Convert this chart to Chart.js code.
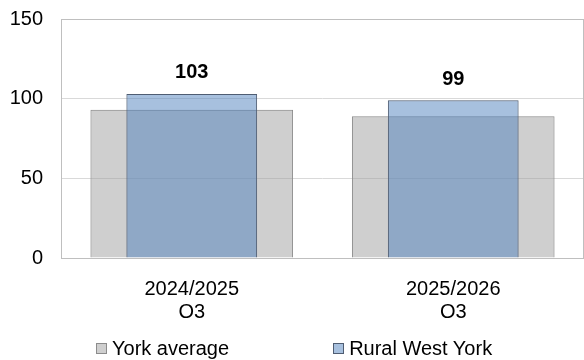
<!DOCTYPE html>
<html>
<head>
<meta charset="utf-8">
<script src="https://cdn.jsdelivr.net/npm/chart.js@4/dist/chart.umd.min.js"></script>
<style>
  body { margin: 0; background: #fff; }
  #wrap { position: relative; width: 584px; height: 360px; }
  #legend {
    position: absolute; left: 96px; top: 336px;
    display: flex; gap: 104px;
    font: 20px 'Liberation Sans', Arial, sans-serif; line-height: 24px; color: #000;
    white-space: nowrap;
  }
  #legend .item { position: relative; padding-left: 16px; }
  #legend .box { position: absolute; left: 0; top: 7px; width: 9px; height: 9px; border: 1px solid; }
</style>
</head>
<body>
<div id="wrap">
  <canvas id="myChart" width="584" height="360"></canvas>
  <div id="legend"></div>
</div>
<script>
const categories = [['2024/2025', 'Q3'], ['2025/2026', 'Q3']];
const seriesNames = ['York average', 'Rural West York'];
const yorkAverage = [93, 89];
const ruralWestYork = [103, 99];
const yTicks = [0, 50, 100, 150];

Chart.defaults.font.family = "'Liberation Sans', Arial, sans-serif";
Chart.defaults.font.size = 20;
Chart.defaults.color = '#000';

// grey frame round the plot area
const frame = {
  id: 'frame',
  beforeDatasetsDraw(chart) {
    const { ctx, chartArea: a } = chart;
    ctx.save();
    ctx.strokeStyle = '#bfbfbf';
    ctx.lineWidth = 1;
    ctx.strokeRect(a.left + 0.5, a.top + 0.5, a.right - a.left - 1, a.bottom - a.top);
    ctx.restore();
  }
};

// bold value above the Rural West York bars
const valueLabels = {
  id: 'valueLabels',
  afterDatasetsDraw(chart) {
    const ctx = chart.ctx;
    const meta = chart.getDatasetMeta(1);
    ctx.save();
    ctx.font = "bold 20px 'Liberation Sans', Arial, sans-serif";
    ctx.fillStyle = '#000';
    ctx.textAlign = 'center';
    ctx.textBaseline = 'middle';
    meta.data.forEach((bar, i) => {
      ctx.fillText(ruralWestYork[i], bar.x, bar.y - 21);
    });
    ctx.restore();
  }
};

const ctx = document.getElementById('myChart').getContext('2d');
const chart = new Chart(ctx, {
  type: 'bar',
  data: {
    labels: categories,
    datasets: [{
      label: seriesNames[0],
      data: yorkAverage,
      backgroundColor: 'rgba(160,160,160,0.5)',
      borderColor: '#8c8c8c',
      borderWidth: 1,
      grouped: false,
      barPercentage: 0.775,
      categoryPercentage: 1,
      order: 2
    }, {
      label: seriesNames[1],
      data: ruralWestYork,
      backgroundColor: 'rgba(79,129,189,0.5)',
      borderColor: '#4f5d72',
      borderWidth: 1,
      grouped: false,
      barPercentage: 0.5,
      categoryPercentage: 1,
      order: 1
    }]
  },
  options: {
    responsive: false,
    animation: false,
    layout: { padding: { top: 19, right: 0, bottom: 42, left: 0 } },
    plugins: {
      legend: { display: false },
      tooltip: { enabled: false }
    },
    scales: {
      x: {
        grid: { display: false },
        border: { display: false },
        ticks: { padding: 12, font: { size: 20, lineHeight: 1.15 } },
        afterFit: (scale) => { scale.height = 60; }
      },
      y: {
        min: yTicks[0],
        max: yTicks[yTicks.length - 1],
        afterBuildTicks: (scale) => { scale.ticks = yTicks.map(v => ({ value: v })); },
        grid: { color: '#d9d9d9', drawTicks: false },
        border: { display: false },
        ticks: { padding: 18 },
        afterFit: (scale) => {
          scale.width = 61;
          scale.paddingTop = 0;
          scale.paddingBottom = 0;
        }
      }
    }
  },
  plugins: [frame, valueLabels]
});

// legend built from the datasets
const legend = document.getElementById('legend');
chart.data.datasets.forEach((ds) => {
  const item = document.createElement('div');
  item.className = 'item';
  const box = document.createElement('span');
  box.className = 'box';
  box.style.background = ds.backgroundColor;
  box.style.borderColor = ds.borderColor;
  item.appendChild(box);
  item.appendChild(document.createTextNode(ds.label));
  legend.appendChild(item);
});
</script>
</body>
</html>
